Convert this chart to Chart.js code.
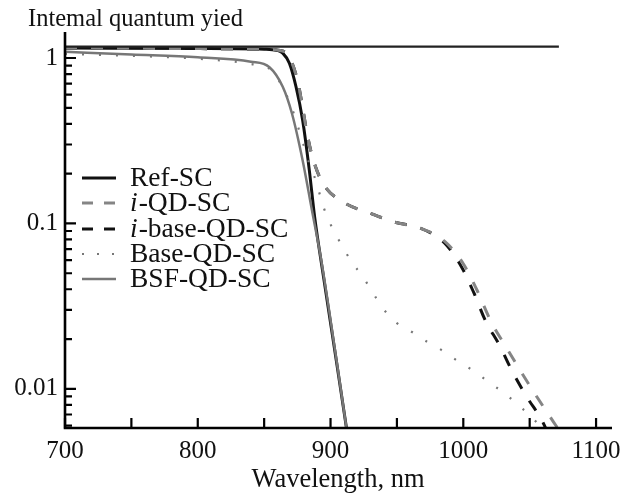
<!DOCTYPE html>
<html>
<head>
<meta charset="utf-8">
<script src="https://cdn.jsdelivr.net/npm/chart.js@4/dist/chart.umd.min.js"></script>
<style>
html,body{margin:0;padding:0;background:#fff;}
#wrap{width:630px;height:495px;position:relative;}
</style>
</head>
<body>
<div id="wrap"><canvas id="c" width="630" height="495"></canvas></div>
<script>
// ---- data ----
const xTickValues = [700, 800, 900, 1000, 1100];
const xMinorTicks = [700, 750, 800, 850, 900, 950, 1000, 1050, 1100];
const yTickValues = [0.01, 0.1, 1];
const yTickLabels = ['0.01', '0.1', '1'];
const yMinorTicks = [0.006, 0.007, 0.008, 0.009, 0.02, 0.03, 0.04, 0.05, 0.06, 0.07, 0.08, 0.09,
                     0.2, 0.3, 0.4, 0.5, 0.6, 0.7, 0.8, 0.9];

const labels = ['Ref-SC', 'i-QD-SC', 'i-base-QD-SC', 'Base-QD-SC', 'BSF-QD-SC'];

const topWl  = [700, 1072];
const topVal = [1.17, 1.17];

const refWl  = [700, 800, 850, 860, 864, 869, 874, 879, 884, 888, 895, 905, 912];
const refVal = [1.15, 1.14, 1.13, 1.11, 1.07, 0.93, 0.67, 0.42, 0.21, 0.11, 0.046, 0.0137, 0.0058];

const iqWl  = [700, 800, 850, 862, 868, 875, 879, 882, 886.5, 894, 910, 929, 948, 967, 986, 1000, 1010, 1021, 1032, 1044, 1056, 1068, 1071];
const iqVal = [1.15, 1.14, 1.13, 1.11, 1.04, 0.74, 0.50, 0.36, 0.25, 0.176, 0.134, 0.116, 0.102, 0.094, 0.078, 0.057, 0.040, 0.0254, 0.018, 0.0125, 0.0088, 0.0063, 0.0058];

const ibWl  = [700, 800, 850, 862, 868, 875, 879, 882, 886.5, 894, 910, 929, 948, 967, 986, 999, 1008, 1016.5, 1027, 1037, 1048, 1059, 1062];
const ibVal = [1.15, 1.14, 1.13, 1.11, 1.04, 0.74, 0.50, 0.36, 0.25, 0.176, 0.134, 0.116, 0.102, 0.094, 0.076, 0.054, 0.038, 0.026, 0.0185, 0.0127, 0.0089, 0.0065, 0.0058];

const baseWl  = [700, 750, 800, 840, 855, 865, 872, 878, 884, 889.5, 893, 897, 906, 916, 924, 932, 939, 950, 962, 973, 985, 996, 1008, 1019, 1031, 1042, 1052, 1059];
const baseVal = [1.06, 1.03, 0.99, 0.92, 0.85, 0.64, 0.47, 0.33, 0.23, 0.176, 0.139, 0.112, 0.08, 0.0585, 0.048, 0.038, 0.031, 0.025, 0.0219, 0.0192, 0.0169, 0.0147, 0.0128, 0.011, 0.0094, 0.0079, 0.0067, 0.0058];

const bsfWl  = [700, 750, 800, 840, 854, 864, 871, 879, 886, 893, 903, 912];
const bsfVal = [1.09, 1.05, 1.01, 0.95, 0.88, 0.67, 0.46, 0.24, 0.12, 0.06, 0.018, 0.0058];

const pts = (xs, ys) => xs.map((x, i) => ({x: x, y: ys[i]}));
const SERIF = '"Liberation Serif", "Times New Roman", serif';

function ds(label, xs, ys, color, width, dash, inLegend) {
  return {
    label: label, data: pts(xs, ys), borderColor: color, borderWidth: width,
    borderDash: dash, pointRadius: 0, fill: false, cubicInterpolationMode: 'monotone',
    inLegend: inLegend, borderCapStyle: 'butt'
  };
}

const datasets = [
  ds('', topWl, topVal, '#222', 2.2, [], false),
  ds(labels[4], bsfWl, bsfVal, '#777', 2.5, [], true),
  ds(labels[3], baseWl, baseVal, '#777', 2.2, [2, 15], true),
  ds(labels[1], iqWl, iqVal, '#858585', 3, [12, 14], true),
  ds(labels[2], ibWl, ibVal, '#111', 3, [12, 14], true),
  ds(labels[0], refWl, refVal, '#111', 3, [], true)
];

const decorPlugin = {
  id: 'decor',
  afterDraw(chart) {
    const ctx = chart.ctx;
    const xs = chart.scales.x, ys = chart.scales.y;
    const a = chart.chartArea;
    ctx.save();
    // axes
    ctx.strokeStyle = '#000';
    ctx.lineWidth = 2.6;
    ctx.beginPath();
    ctx.moveTo(a.left, a.top);
    ctx.lineTo(a.left, a.bottom);
    ctx.lineTo(a.right, a.bottom);
    ctx.stroke();
    // inward ticks
    ctx.lineWidth = 2.2;
    ctx.beginPath();
    xMinorTicks.forEach(v => {
      const px = xs.getPixelForValue(v);
      ctx.moveTo(px, a.bottom);
      ctx.lineTo(px, a.bottom - 10);
    });
    yTickValues.forEach(v => {
      const py = ys.getPixelForValue(v);
      ctx.moveTo(a.left, py);
      ctx.lineTo(a.left + 11, py);
    });
    yMinorTicks.forEach(v => {
      const py = ys.getPixelForValue(v);
      ctx.moveTo(a.left, py);
      ctx.lineTo(a.left + 7, py);
    });
    ctx.stroke();
    // titles
    ctx.fillStyle = '#111';
    ctx.font = '24.5px ' + SERIF;
    ctx.textBaseline = 'alphabetic';
    ctx.textAlign = 'left';
    ctx.fillText('Intemal quantum yied', 28, 26);
    ctx.font = '26.5px ' + SERIF;
    ctx.textAlign = 'center';
    ctx.fillText('Wavelength, nm', 338, 487);
    // legend
    const order = [labels[0], labels[1], labels[2], labels[3], labels[4]];
    const rowBase = [186, 211, 237, 262, 287];
    order.forEach((lab, i) => {
      const d = chart.data.datasets.find(q => q.label === lab);
      const by = rowBase[i];
      ctx.save();
      ctx.strokeStyle = d.borderColor;
      ctx.lineWidth = d.borderWidth;
      ctx.setLineDash(d.borderDash.length ? (d.borderDash[0] > 5 ? [11, 11] : [2, 13]) : []);
      ctx.beginPath();
      ctx.moveTo(82, by - 8);
      ctx.lineTo(116, by - 8);
      ctx.stroke();
      ctx.restore();
      ctx.textAlign = 'left';
      let x = 130;
      let rest = lab;
      if (lab.startsWith('i-')) {
        ctx.font = 'italic 27.5px ' + SERIF;
        ctx.fillText('i', x, by);
        x += ctx.measureText('i').width + 1;
        rest = lab.slice(1);
      }
      ctx.font = '27.5px ' + SERIF;
      ctx.fillText(rest, x, by);
    });
    ctx.restore();
  }
};

new Chart(document.getElementById('c'), {
  type: 'line',
  data: { datasets: datasets },
  plugins: [decorPlugin],
  options: {
    responsive: false,
    animation: false,
    events: [],
    layout: { padding: { left: 0, right: 18, top: 32, bottom: 0 } },
    plugins: { legend: { display: false }, tooltip: { enabled: false }, title: { display: false } },
    scales: {
      x: {
        type: 'linear', min: 700, max: 1112,
        grid: { display: false, drawTicks: false },
        border: { display: false },
        afterFit: s => { s.height = 67; },
        afterBuildTicks: s => { s.ticks = xTickValues.map(v => ({ value: v })); },
        ticks: { padding: 8, color: '#111', font: { family: SERIF, size: 25 }, maxRotation: 0, autoSkip: false,
                 callback: v => String(v) }
      },
      y: {
        type: 'logarithmic', min: 0.0058, max: 1.436,
        grid: { display: false, drawTicks: false },
        border: { display: false },
        afterFit: s => { s.width = 65; },
        afterBuildTicks: s => { s.ticks = yTickValues.map(v => ({ value: v })); },
        ticks: { padding: 7, color: '#111', font: { family: SERIF, size: 25 }, autoSkip: false,
                 callback: v => { const i = yTickValues.indexOf(v); return i >= 0 ? yTickLabels[i] : ''; } }
      }
    }
  }
});
</script>
</body>
</html>
